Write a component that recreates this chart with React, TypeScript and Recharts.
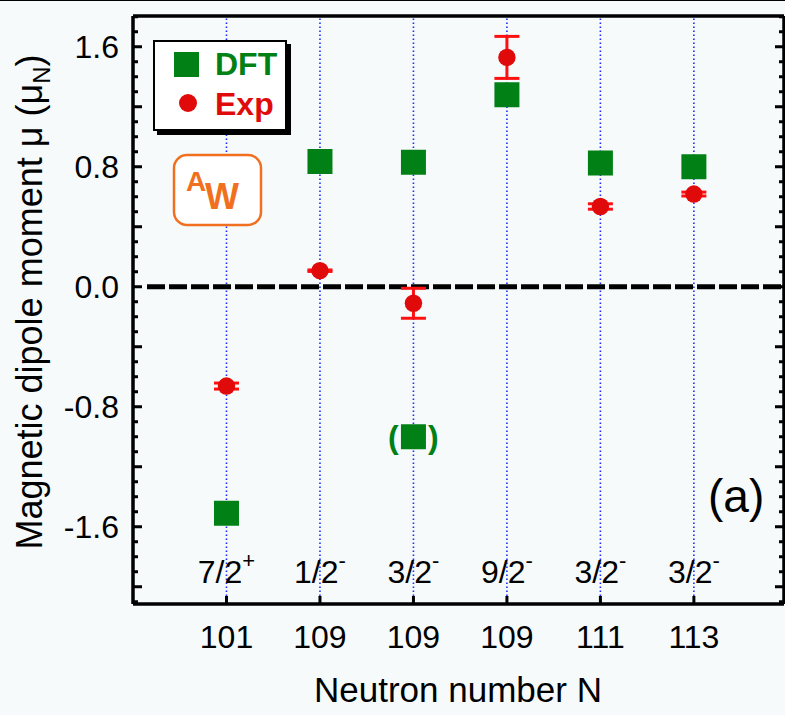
import { ComposedChart, Scatter, XAxis, YAxis, ReferenceLine, ErrorBar } from 'recharts'

// categories (neutron number + spin/parity of the state)
const nLabels = ['101', '109', '109', '109', '111', '113']
const spins = ['7/2', '1/2', '3/2', '9/2', '3/2', '3/2']
const parities = ['+', '-', '-', '-', '-', '-']

// series values (mu_N)
const dftVals = [-1.51, 0.835, 0.83, 1.28, 0.825, 0.8]
const expVals = [-0.662, 0.107, -0.11, 1.529, 0.535, 0.618]
const expErrs = [0.02, 0.005, 0.1, 0.14, 0.018, 0.013]
// second DFT solution shown in brackets, on the 3rd category
const bracketIdx = [2]
const bracketVals = [-1.0]

// axis ticks
const yLabels = [-1.6, -0.8, 0, 0.8, 1.6]
const yMarks = Array.from({ length: 40 }, (_, i) => Math.round((-2.1 + i * 0.1) * 10) / 10)
const xTicks = nLabels.map((_, i) => i + 1)

const GREEN = '#008015'
const RED = '#e00a0a'
const FONT = '"Liberation Sans", Arial, sans-serif'

const dftData = dftVals.map((v, i) => ({ x: i + 1, y: v }))
const expData = expVals.map((v, i) => ({ x: i + 1, y: v, err: expErrs[i] }))
const bracketData = bracketVals.map((v, i) => ({ x: bracketIdx[i] + 1, y: v }))

const isMajor = (v: number) => Math.abs(Math.round(v / 0.4) * 0.4 - v) < 1e-6

function LeftTick({ x, y, payload }: any) {
  const v = payload.value
  const lab = yLabels.find((m) => Math.abs(m - v) < 1e-6)
  return (
    <g>
      <line x1={x} x2={x + (isMajor(v) ? 9 : 5)} y1={y} y2={y} stroke="#000" strokeWidth={3} />
      {lab !== undefined && (
        <text x={x - 14} y={y} textAnchor="end" dominantBaseline="central" fontSize={32} fill="#000">
          {lab.toFixed(1)}
        </text>
      )}
    </g>
  )
}

function RightTick({ x, y, payload }: any) {
  const v = payload.value
  return <line x1={x} x2={x - (isMajor(v) ? 9 : 5)} y1={y} y2={y} stroke="#000" strokeWidth={3} />
}

function TopTick({ x, y }: any) {
  return <line x1={x} x2={x} y1={y} y2={y + 8} stroke="#000" strokeWidth={3} />
}

function BottomTick({ x, y, payload }: any) {
  const i = payload.value - 1
  return (
    <g>
      <line x1={x} x2={x} y1={y} y2={y - 8} stroke="#000" strokeWidth={3} />
      <text x={x} y={y - 32} textAnchor="middle" dominantBaseline="central" fontSize={32} fill="#000">
        {spins[i]}
        <tspan fontSize={22} dy={-12}>{parities[i]}</tspan>
      </text>
      <text x={x} y={y + 33} textAnchor="middle" dominantBaseline="central" fontSize={32} fill="#000">
        {nLabels[i]}
      </text>
    </g>
  )
}

const Square = ({ cx, cy }: any) => (
  <rect x={cx - 12.5} y={cy - 12.5} width={25} height={25} fill={GREEN} />
)

const BracketSquare = ({ cx, cy }: any) => (
  <g>
    <rect x={cx - 12.5} y={cy - 12.5} width={25} height={25} fill={GREEN} />
    <text x={cx - 20} y={cy} textAnchor="middle" dominantBaseline="central" fontSize={32} fontWeight="bold" fill={GREEN}>(</text>
    <text x={cx + 20} y={cy} textAnchor="middle" dominantBaseline="central" fontSize={32} fontWeight="bold" fill={GREEN}>)</text>
  </g>
)

const Dot = ({ cx, cy }: any) => <circle cx={cx} cy={cy} r={8.7} fill={RED} />

const YTitle = () => (
  <text transform="translate(42,302) rotate(-90)" textAnchor="middle" fontSize={36} fill="#000">
    Magnetic dipole moment μ (μ
    <tspan fontSize={24} dy={8}>N</tspan>
    <tspan dy={-8}>)</tspan>
  </text>
)

const XTitle = () => (
  <text x={458} y={702} textAnchor="middle" fontSize={35} fill="#000">
    Neutron number N
  </text>
)

export default function App() {
  return (
    <div style={{ position: 'relative', width: 785, height: 715, fontFamily: FONT, background: '#f6fafb' }}>
      <style>{'body{margin:0;background:#f6fafb}'}</style>
      <div style={{ position: 'absolute', left: 0, top: 0, width: 785, height: 1, background: '#000' }} />
      <ComposedChart width={785} height={715} margin={{ top: 6, right: 0, left: 33, bottom: 11 }}>
        <XAxis
          xAxisId="b"
          dataKey="x"
          type="number"
          domain={[0, 6.964]}
          ticks={xTicks}
          interval={0}
          allowDataOverflow
          height={100}
          tickSize={0}
          tickMargin={0}
          tickLine={false}
          axisLine={{ stroke: '#000', strokeWidth: 3.5 }}
          tick={<BottomTick />}
          label={<XTitle />}
        />
        <XAxis
          xAxisId="t"
          orientation="top"
          type="number"
          domain={[0, 6.964]}
          ticks={xTicks}
          interval={0}
          allowDataOverflow
          height={10}
          tickSize={0}
          tickMargin={0}
          tickLine={false}
          axisLine={{ stroke: '#000', strokeWidth: 3.5 }}
          tick={<TopTick />}
        />
        <YAxis
          yAxisId="l"
          dataKey="y"
          type="number"
          domain={[-2.115, 1.805]}
          ticks={yMarks}
          interval={0}
          allowDataOverflow
          width={100}
          tickSize={0}
          tickMargin={0}
          tickLine={false}
          axisLine={{ stroke: '#000', strokeWidth: 3.5 }}
          tick={<LeftTick />}
          label={<YTitle />}
        />
        <YAxis
          yAxisId="r"
          orientation="right"
          type="number"
          domain={[-2.115, 1.805]}
          ticks={yMarks}
          interval={0}
          allowDataOverflow
          width={1}
          tickSize={0}
          tickMargin={0}
          tickLine={false}
          axisLine={{ stroke: '#000', strokeWidth: 3.5 }}
          tick={<RightTick />}
        />
        {xTicks.map((t) => (
          <ReferenceLine key={t} xAxisId="b" yAxisId="l" x={t} stroke="#1a2cff" strokeWidth={1.6} strokeDasharray="1.5 2.5" />
        ))}
        <ReferenceLine
          xAxisId="b"
          yAxisId="l"
          segment={[{ x: 0.15, y: 0 }, { x: 6.964, y: 0 }]}
          stroke="#000"
          strokeWidth={5}
          strokeDasharray="18 4"
        />
        <Scatter xAxisId="b" yAxisId="l" data={dftData} shape={<Square />} isAnimationActive={false} />
        <Scatter xAxisId="b" yAxisId="l" data={bracketData} shape={<BracketSquare />} isAnimationActive={false} />
        <Scatter xAxisId="b" yAxisId="l" data={expData} shape={<Dot />} isAnimationActive={false}>
          <ErrorBar dataKey="err" direction="y" stroke="#ff1010" strokeWidth={3} width={12.5} isAnimationActive={false} />
        </Scatter>
      </ComposedChart>

      {/* legend */}
      <div
        style={{
          position: 'absolute', left: 153, top: 40, width: 130, height: 87,
          border: '2px solid #000', background: '#fff', boxShadow: '4px 4px 0 #000',
        }}
      >
        <div style={{ position: 'absolute', left: 19, top: 10, width: 25, height: 25, background: GREEN }} />
        <div style={{ position: 'absolute', left: 60, top: 2, fontSize: 32, fontWeight: 'bold', color: GREEN, lineHeight: '40px' }}>DFT</div>
        <div style={{ position: 'absolute', left: 24, top: 52, width: 18, height: 18, borderRadius: 9, background: RED }} />
        <div style={{ position: 'absolute', left: 60, top: 42, fontSize: 32, fontWeight: 'bold', color: RED, lineHeight: '40px' }}>Exp</div>
      </div>

      {/* nucleus tag and panel letter */}
      <svg style={{ position: 'absolute', left: 0, top: 0 }} width={785} height={715}>
        <rect x={174} y={155} width={87} height={70} rx={13} fill="#fff" stroke="#f07020" strokeWidth={2.5} />
        <text x={186} y={191} fontSize={28} fontWeight="bold" fill="#f07020">A</text>
        <text x={205} y={209} fontSize={36} fontWeight="bold" fill="#f07020">W</text>
        <text x={708} y={512} fontSize={46} fill="#000">(a)</text>
      </svg>
    </div>
  )
}
